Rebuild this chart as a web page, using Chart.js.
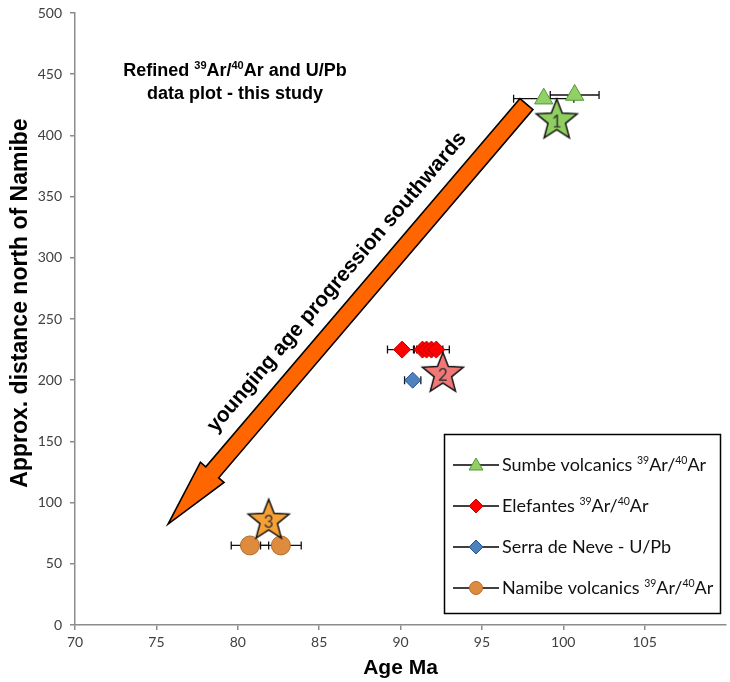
<!DOCTYPE html>
<html>
<head>
<meta charset="utf-8">
<script src="https://cdn.jsdelivr.net/npm/chart.js@4/dist/chart.umd.min.js"></script>
<style>
html,body{margin:0;padding:0;background:#fff;}
canvas{display:block;}
</style>
</head>
<body>
<canvas id="c" width="730" height="682" style="width:730px;height:682px"></canvas>
<script>
// ---- data ----
const xTicks = [70, 75, 80, 85, 90, 95, 100, 105];
const yTicks = [0, 50, 100, 150, 200, 250, 300, 350, 400, 450, 500];

const sumbeAge = [98.8, 100.7];
const sumbeDist = [430, 433];
const sumbeErr = [1.85, 1.5];

const elefAge = [90.1, 91.35, 91.6, 91.9, 92.2];
const elefDist = [225, 225, 225, 225, 225];
const elefErr = [0.9, 0.5, 0.8, 0.7, 0.8];

const serraAge = [90.75];
const serraDist = [200];
const serraErr = [0.5];

const namibeAge = [80.75, 82.65];
const namibeDist = [65, 65];
const namibeErr = [1.15, 1.25];

const starAge = [99.6, 92.6, 81.9];
const starDist = [413, 206, 86];
const starLabels = ['1', '2', '3'];

const legendLabels = [
  'Sumbe volcanics ^{39}Ar/^{40}Ar',
  'Elefantes ^{39}Ar/^{40}Ar',
  'Serra de Neve - U/Pb',
  'Namibe volcanics ^{39}Ar/^{40}Ar'
];
const titleLines = ['Refined ^{39}Ar/^{40}Ar and U/Pb', 'data plot - this study'];
const xTitle = 'Age Ma';
const yTitle = 'Approx. distance north of Namibe';
const arrowText = 'younging age progression southwards';
// arrow from (age, distance) tail to tip
const arrowTail = [97.74, 425.6];
const arrowTip = [75.72, 82.5];
const arrowTextPos = [86.1, 280];

// ---- styles ----
const C = {
  sumbe: {fill: '#92cf65', border: '#4e9a35'},
  elef: {fill: '#ff0000', border: '#c00000'},
  serra: {fill: '#4f81bd', border: '#23509a'},
  namibe: {fill: '#de8b3e', border: '#b36b2a'},
  stars: ['#8fcf5f', '#f27878', '#f6a035'],
  arrow: '#ff6600'
};

function pts(xs, ys) { return xs.map((x, i) => ({x: x, y: ys[i]})); }

function makeStar(fill, label) {
  const cv = document.createElement('canvas');
  cv.width = 50; cv.height = 50;
  const g = cv.getContext('2d');
  const cx = 25, cy = 26, R = 21.5, r = 9.2;
  g.beginPath();
  for (let i = 0; i < 10; i++) {
    const a = -Math.PI / 2 + i * Math.PI / 5;
    const rad = i % 2 === 0 ? R : r;
    const px = cx + Math.cos(a) * rad, py = cy + Math.sin(a) * rad;
    if (i === 0) g.moveTo(px, py); else g.lineTo(px, py);
  }
  g.closePath();
  g.fillStyle = fill; g.fill();
  g.lineWidth = 1.5; g.strokeStyle = '#111'; g.lineJoin = 'miter'; g.stroke();
  g.fillStyle = '#333';
  g.font = '17px Lato';
  g.textAlign = 'center'; g.textBaseline = 'middle';
  g.fillText(label, cx, cy + 2);
  return cv;
}
const starImgs = starLabels.map((l, i) => makeStar(C.stars[i], l));

function parseRich(s) {
  const parts = [];
  const re = /\^\{([^}]*)\}/g;
  let last = 0, m;
  while ((m = re.exec(s)) !== null) {
    if (m.index > last) parts.push([s.slice(last, m.index), false]);
    parts.push([m[1], true]);
    last = re.lastIndex;
  }
  if (last < s.length) parts.push([s.slice(last), false]);
  return parts;
}
function richWidth(ctx, parts, font, supFont) {
  let w = 0;
  for (const [t, sup] of parts) { ctx.font = sup ? supFont : font; w += ctx.measureText(t).width; }
  return w;
}
function drawRich(ctx, parts, x, y, font, supFont, rise) {
  for (const [t, sup] of parts) {
    ctx.font = sup ? supFont : font;
    ctx.fillText(t, x, sup ? y - rise : y);
    x += ctx.measureText(t).width;
  }
}

const errSets = [
  [sumbeAge, sumbeDist, sumbeErr],
  [elefAge, elefDist, elefErr],
  [serraAge, serraDist, serraErr],
  [namibeAge, namibeDist, namibeErr]
];

const decoPlugin = {
  id: 'deco',
  beforeDatasetsDraw(chart) {
    const {ctx, scales: {x, y}} = chart;
    ctx.save();
    // error bars
    ctx.strokeStyle = '#111';
    ctx.lineWidth = 1.3;
    for (const [ax, ay, ae] of errSets) {
      for (let i = 0; i < ax.length; i++) {
        const x0 = x.getPixelForValue(ax[i] - ae[i]);
        const x1 = x.getPixelForValue(ax[i] + ae[i]);
        const py = y.getPixelForValue(ay[i]);
        ctx.beginPath();
        ctx.moveTo(x0, py); ctx.lineTo(x1, py);
        ctx.moveTo(x0, py - 4); ctx.lineTo(x0, py + 4);
        ctx.moveTo(x1, py - 4); ctx.lineTo(x1, py + 4);
        ctx.stroke();
      }
    }
    // arrow
    const tx = x.getPixelForValue(arrowTail[0]), ty = y.getPixelForValue(arrowTail[1]);
    const hx = x.getPixelForValue(arrowTip[0]), hy = y.getPixelForValue(arrowTip[1]);
    const dx = hx - tx, dy = hy - ty, L = Math.hypot(dx, dy);
    const ux = dx / L, uy = dy / L, nx = -uy, ny = ux;
    const sw = 8.5, hw = 15.5, hl = 68;
    const bx = hx - ux * hl, by = hy - uy * hl;
    ctx.beginPath();
    ctx.moveTo(tx + nx * sw, ty + ny * sw);
    ctx.lineTo(bx + nx * sw, by + ny * sw);
    ctx.lineTo(bx + nx * hw, by + ny * hw);
    ctx.lineTo(hx, hy);
    ctx.lineTo(bx - nx * hw, by - ny * hw);
    ctx.lineTo(bx - nx * sw, by - ny * sw);
    ctx.lineTo(tx - nx * sw, ty - ny * sw);
    ctx.closePath();
    ctx.fillStyle = C.arrow; ctx.fill();
    ctx.lineWidth = 1.6; ctx.strokeStyle = '#000'; ctx.lineJoin = 'miter'; ctx.miterLimit = 10; ctx.stroke();
    // arrow text
    const ang = Math.atan2(dy, dx) + Math.PI; // reads upward
    ctx.save();
    ctx.translate(x.getPixelForValue(arrowTextPos[0]), y.getPixelForValue(arrowTextPos[1]));
    ctx.rotate(ang);
    ctx.fillStyle = '#000';
    ctx.font = 'bold 21px "Liberation Sans"';
    ctx.textAlign = 'center'; ctx.textBaseline = 'middle';
    ctx.fillText(arrowText, 0, 0);
    ctx.restore();
    ctx.restore();
  },
  afterDraw(chart) {
    const {ctx} = chart;
    ctx.save();
    // y axis title
    ctx.save();
    ctx.translate(21, 303);
    ctx.rotate(-Math.PI / 2);
    ctx.fillStyle = '#000';
    ctx.font = 'bold 23px "Liberation Sans"';
    ctx.textAlign = 'center'; ctx.textBaseline = 'middle';
    ctx.fillText(yTitle, 0, 0);
    ctx.restore();
    // title annotation
    ctx.fillStyle = '#000';
    ctx.textBaseline = 'alphabetic';
    ctx.textAlign = 'left';
    const tf = 'bold 18px "Liberation Sans"', tsf = 'bold 11px "Liberation Sans"';
    const tys = [76, 99];
    titleLines.forEach((ln, i) => {
      const p = parseRich(ln);
      const w = richWidth(ctx, p, tf, tsf);
      drawRich(ctx, p, 235 - w / 2, tys[i], tf, tsf, 7);
    });
    // legend box
    ctx.lineWidth = 1.5; ctx.strokeStyle = '#000';
    ctx.strokeRect(444.5, 434.5, 276, 179);
    const lf = '18px Lato', lsf = '10.5px Lato';
    const rows = [465, 506, 547, 588];
    const styles = [
      ['triangle', C.sumbe, 8],
      ['rectRot', C.elef, 7],
      ['rectRot', C.serra, 7],
      ['circle', C.namibe, 6.5]
    ];
    rows.forEach((ry, i) => {
      ctx.beginPath(); ctx.lineWidth = 1.5; ctx.strokeStyle = '#000';
      ctx.moveTo(453, ry); ctx.lineTo(499, ry); ctx.stroke();
      const [ps, col, rad] = styles[i];
      ctx.fillStyle = col.fill; ctx.strokeStyle = col.border; ctx.lineWidth = 1;
      Chart.helpers.drawPoint(ctx, {pointStyle: ps, radius: rad, borderWidth: 1}, 476, ry + (ps === 'triangle' ? 1 : 0));
      ctx.fillStyle = '#111';
      drawRich(ctx, parseRich(legendLabels[i]), 502, ry + 6, lf, lsf, 7);
    });
    ctx.restore();
  }
};

const axisCommon = {
  type: 'linear',
  grid: {display: true, drawOnChartArea: false, drawTicks: true, tickLength: 5, color: '#8c8c8c', lineWidth: 1.5},
  border: {display: true, color: '#8c8c8c', width: 1.5}
};

new Chart(document.getElementById('c'), {
  type: 'scatter',
  data: {
    datasets: [
      {label: 'stars', data: pts(starAge, starDist), pointStyle: starImgs, radius: 20},
      {label: 'Sumbe', data: pts(sumbeAge, sumbeDist), pointStyle: 'triangle', radius: 10.5,
        backgroundColor: C.sumbe.fill, borderColor: C.sumbe.border, borderWidth: 1},
      {label: 'Elefantes', data: pts(elefAge, elefDist), pointStyle: 'rectRot', radius: 8.5,
        backgroundColor: C.elef.fill, borderColor: C.elef.border, borderWidth: 1},
      {label: 'Serra', data: pts(serraAge, serraDist), pointStyle: 'rectRot', radius: 8,
        backgroundColor: C.serra.fill, borderColor: C.serra.border, borderWidth: 1},
      {label: 'Namibe', data: pts(namibeAge, namibeDist), pointStyle: 'circle', radius: 9.5,
        backgroundColor: C.namibe.fill, borderColor: C.namibe.border, borderWidth: 1}
    ]
  },
  options: {
    responsive: false,
    animation: false,
    devicePixelRatio: 1,
    layout: {autoPadding: false, padding: {top: 13, right: 4, left: 0, bottom: 0}},
    plugins: {legend: {display: false}, tooltip: {enabled: false}},
    scales: {
      x: Object.assign({}, axisCommon, {
        min: 70, max: 110,
        afterBuildTicks: s => { s.ticks = xTicks.map(v => ({value: v})); },
        afterFit: s => { s.height = 57; s.paddingLeft = 0; s.paddingRight = 0; },
        ticks: {font: {family: 'Lato', size: 14}, color: '#404040', padding: 4, maxRotation: 0, autoSkip: false},
        title: {display: true, text: xTitle, color: '#000',
          font: {family: 'Liberation Sans', size: 21, weight: 'bold'}, padding: {top: 1, bottom: 1}}
      }),
      y: Object.assign({}, axisCommon, {
        min: 0, max: 500,
        afterBuildTicks: s => { s.ticks = yTicks.map(v => ({value: v})); },
        afterFit: s => { s.width = 75; s.paddingTop = 0; s.paddingBottom = 0; },
        ticks: {font: {family: 'Lato', size: 14}, color: '#404040', padding: 8, autoSkip: false},
        title: {display: false}
      })
    }
  },
  plugins: [decoPlugin]
});
</script>
</body>
</html>
